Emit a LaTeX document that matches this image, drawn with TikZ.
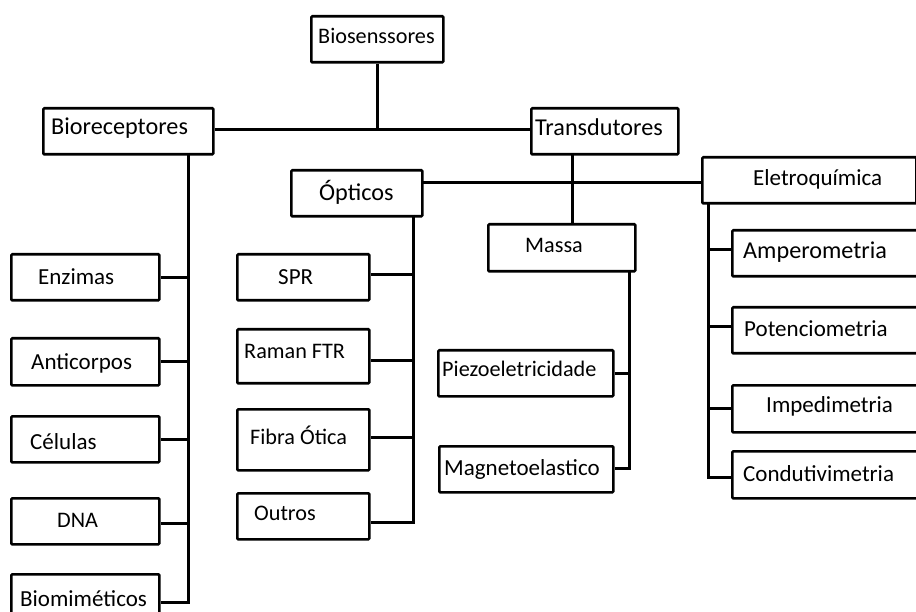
\documentclass[tikz,border=0pt]{standalone}
\usepackage{fontspec}
\setmainfont{Carlito}
\begin{document}
\begin{tikzpicture}[x=1pt,y=-1pt,
  box/.style={draw=black,line width=2.6pt,rounded corners=1pt,inner sep=0pt,anchor=north west},
  txt/.style={anchor=base west,inner sep=0pt,font=\fontsize{23}{27}\selectfont},
  big/.style={font=\fontsize{24.2}{28}\selectfont},
  small/.style={font=\fontsize{22.2}{26}\selectfont},
  conn/.style={draw=black,line width=3pt}]
\useasboundingbox (0,0) rectangle (916,612);
\clip (0,0) rectangle (916,612);
% boxes: name, left, top, width, height
\newcommand{\mybox}[5]{\node[box,minimum width=#4pt,minimum height=#5pt] (#1) at (#2,#3) {};}
\mybox{bio}{310}{15}{132}{46}
\mybox{rec}{42}{107}{170}{46}
\mybox{tra}{530}{107}{147}{46}
\mybox{opt}{290}{169}{131}{46}
\mybox{ele}{701}{156}{214}{46}
\mybox{mas}{487}{223}{147}{47}
\mybox{enz}{10}{253}{148}{46}
\mybox{ant}{10}{337}{148}{47}
\mybox{cel}{10}{415}{148}{46}
\mybox{dna}{10}{497}{148}{46}
\mybox{bmi}{10}{573}{148}{57}
\mybox{spr}{236}{253}{132}{46}
\mybox{ram}{236}{328}{132}{54}
\mybox{fib}{236}{408}{132}{61}
\mybox{out}{236}{492}{132}{46}
\mybox{pie}{437}{349}{175}{46}
\mybox{mag}{438}{445}{174}{46}
\mybox{amp}{731}{229}{200}{46}
\mybox{pot}{731}{306}{200}{46}
\mybox{imp}{731}{384}{200}{47}
\mybox{con}{731}{450}{200}{47}
% texts
\node[txt,small] (bio-t) at (318,44) {Biosenssores};
\node[txt,big] (rec-t) at (51,135) {Bioreceptores};
\node[txt,big] (tra-t) at (535,136) {Transdutores};
\node[txt,big] (opt-t) at (319,201) {Ópticos};
\node[txt] (ele-t) at (753,186) {Eletroquímica};
\node[txt,small] (mas-t) at (525,253) {Massa};
\node[txt] (enz-t) at (38,285) {Enzimas};
\node[txt] (ant-t) at (31,370) {Anticorpos};
\node[txt] (cel-t) at (30,449) {Células};
\node[txt,small] (dna-t) at (57,527) {DNA};
\node[txt] (bmi-t) at (20,606) {Biomiméticos};
\node[txt] (spr-t) at (278,285) {SPR};
\node[txt,small] (ram-t) at (244,359) {Raman FTR};
\node[txt,small] (fib-t) at (250,444) {Fibra Ótica};
\node[txt,small] (out-t) at (254,520) {Outros};
\node[txt,small] (pie-t) at (442,377) {Piezoeletricidade};
\node[txt] (mag-t) at (444,475) {Magnetoelastico};
\node[txt,big] (amp-t) at (743,259) {Amperometria};
\node[txt] (pot-t) at (744,337) {Potenciometria};
\node[txt] (imp-t) at (766,413) {Impedimetria};
\node[txt] (con-t) at (743,481) {Condutivimetria};
% junction coordinates
\coordinate (recS) at (188,153);
\coordinate (traS) at (572,153);
\coordinate (optS) at (413,215);
\coordinate (optE) at (421,183);
\coordinate (masS) at (629,270);
\coordinate (eleS) at (708,202);
% top level
\draw[conn] (bio.south) -- (bio.south |- 0,128);
\draw[conn] ([yshift=2pt]rec.east) -- ([yshift=2pt]tra.west);
\draw[conn] (traS) -- (traS |- mas.north);
\draw[conn] (optE) -- (optE -| ele.west);
% bioreceptores
\draw[conn] (recS) |- (bmi.east);
\draw[conn] (enz.east) -- (enz.east -| recS);
\draw[conn] (ant.east) -- (ant.east -| recS);
\draw[conn] (cel.east) -- (cel.east -| recS);
\draw[conn] ([yshift=-2pt]dna.east) -- ([yshift=-2pt]dna.east -| recS);
% opticos
\draw[conn] (optS) |- ([yshift=-6pt]out.east);
\draw[conn] ([yshift=3pt]spr.east) -- ([yshift=3pt]spr.east -| optS);
\draw[conn] ([yshift=-4pt]ram.east) -- ([yshift=-4pt]ram.east -| optS);
\draw[conn] ([yshift=2pt]fib.east) -- ([yshift=2pt]fib.east -| optS);
% massa
\draw[conn] (masS) |- ([yshift=1pt]mag.east);
\draw[conn] (pie.east) -- (pie.east -| masS);
% eletroquimica
\draw[conn] (eleS) |- ([yshift=-2.5pt]con.west);
\draw[conn] ([yshift=4pt]amp.west) -- ([yshift=4pt]amp.west -| eleS);
\draw[conn] ([yshift=4pt]pot.west) -- ([yshift=4pt]pot.west -| eleS);
\draw[conn] (imp.west) -- (imp.west -| eleS);
\end{tikzpicture}
\end{document}
